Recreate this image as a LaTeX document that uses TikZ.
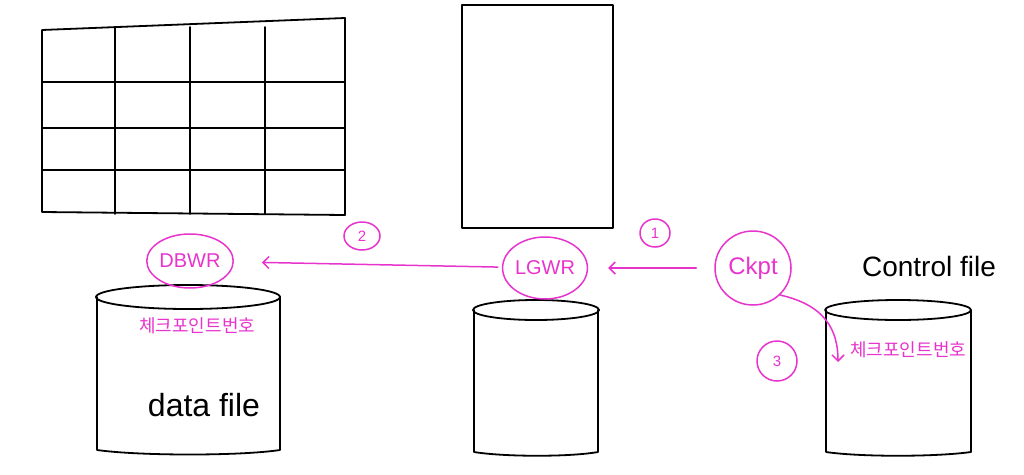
\documentclass[tikz,border=0pt]{standalone}
\usepackage{fontspec}
\setmainfont{Liberation Sans}
\newfontfamily\kr{Noto Sans CJK KR}
\usetikzlibrary{arrows.meta,shapes.geometric}
\definecolor{pen}{RGB}{232,52,204}
\begin{document}
\begin{tikzpicture}[x=1pt,y=-1pt,
  ink/.style={draw=black,line width=1.8pt,line join=round,line cap=round},
  pink/.style={draw=pen,line width=1.5pt,line cap=round},
  proc/.style={pink,ellipse,inner sep=0pt,text=pen,font=\fontsize{20}{22}\selectfont},
  num/.style={pink,circle,inner sep=0pt,text=pen,font=\fontsize{15}{16}\selectfont},
  flow/.style={pink,-{Straight Barb[length=6pt,width=12pt]}},
  note/.style={text=pen,font=\kr\fontsize{18}{20}\selectfont,inner sep=0pt},
  label/.style={text=black,inner sep=0pt}]
\useasboundingbox (0,0) rectangle (1024,474);
% buffer cache grid
\draw[ink] (42,30) -- (345,18) -- (345,215) -- (42,212) -- cycle;
\foreach \x in {115,190,265} \draw[ink] (\x,27) -- (\x,214);
\foreach \y in {82,128,170} \draw[ink] (42,\y) -- (345,\y);
% redo log buffer
\draw[ink] (462,5) -- (613,5) -- (613,228) -- (462,228) -- cycle;
% data file cylinder
\draw[ink] (188,297) ellipse[x radius=92,y radius=12];
\draw[ink] (97,297) -- (97,450) .. controls (140,456) and (240,456) .. (280,450) -- (280,297);
% redo log file cylinder
\draw[ink] (536,310) ellipse[x radius=63,y radius=10];
\draw[ink] (474,310) -- (474,452) .. controls (505,457) and (570,457) .. (598,452) -- (598,310);
% control file cylinder
\draw[ink] (898,310) ellipse[x radius=73,y radius=10];
\draw[ink] (826,310) -- (826,452) .. controls (860,457) and (935,457) .. (971,452) -- (971,310);
% processes
\node[proc,minimum width=70pt,minimum height=54pt] (dbwr) at (190,261) {DBWR};
\node[proc,minimum width=76pt,minimum height=62pt] (lgwr) at (545,268) {LGWR};
\node[proc,minimum width=76pt,minimum height=74pt,font=\fontsize{24}{26}\selectfont] (ckpt) at (753,268) {Ckpt};
% step numbers
\node[num,minimum width=36pt,minimum height=28pt,ellipse] (n2) at (362,236) {2};
\node[num,minimum width=30pt,minimum height=28pt,ellipse] (n1) at (655,233) {1};
\node[num,minimum size=40pt] (n3) at (777,361) {3};
% connectors
\draw[flow,shorten <=18pt,shorten >=20pt] (ckpt) -- (lgwr);
\draw[flow,shorten <=4pt,shorten >=28pt] (lgwr) -- (dbwr);
% notes
\node[note,anchor=west] (dfnote) at (139,326) {체크포인트번호};
\node[note,anchor=west] (cfnote) at (850,350) {체크포인트번호};
\coordinate (cfin) at (838,362);
\draw[flow] (ckpt.-45) .. controls (825,305) and (838,330) .. (cfin);
% labels
\node[label,font=\fontsize{28}{30}\selectfont] (cf) at (929,266) {Control file};
\node[label,font=\fontsize{32}{34}\selectfont] (df) at (204,405) {data file};
\end{tikzpicture}
\end{document}
